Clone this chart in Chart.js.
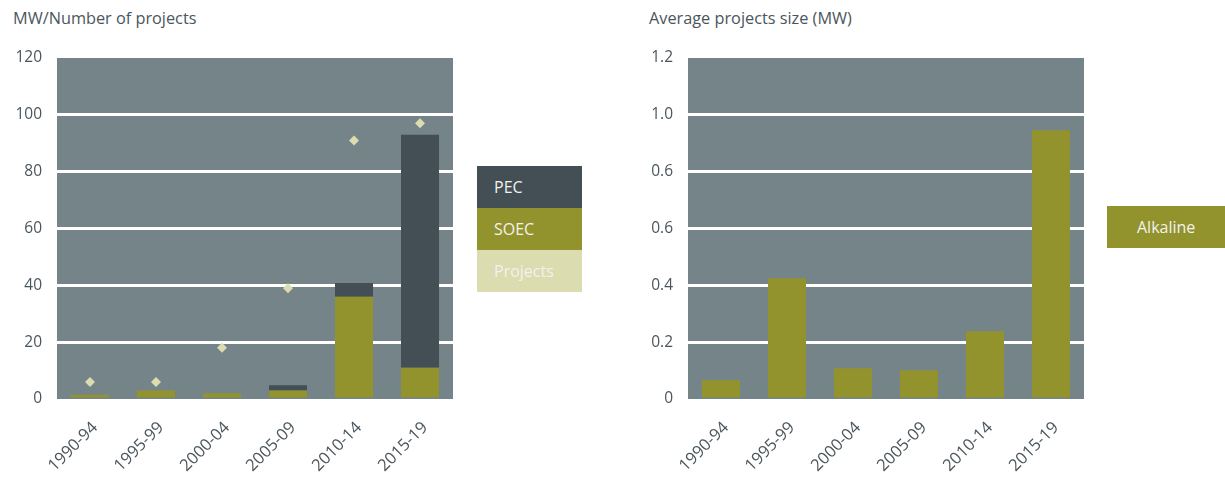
<!DOCTYPE html>
<html>
<head>
<meta charset="utf-8">
<script src="https://cdn.jsdelivr.net/npm/chart.js@4.4.1/dist/chart.umd.min.js"></script>
<style>
  html, body { margin: 0; padding: 0; background: #fff; }
  body { width: 1225px; height: 477px; position: relative; overflow: hidden; font-family: "Open Sans", sans-serif; }
  .title { position: absolute; top: 7px; font-size: 16.3px; color: #4b565c; white-space: nowrap; }
  .wrap { position: absolute; top: 0; width: 470px; height: 477px; }
  .legend { position: absolute; }
  .legend div { height: 42px; line-height: 42px; font-size: 16px; color: #f2f2ee; box-sizing: border-box; }
</style>
</head>
<body>
<div class="title" style="left:13px">MW/Number of projects</div>
<div class="title" style="left:649px">Average projects size (MW)</div>
<div class="wrap" style="left:0"><canvas id="left" width="470" height="477"></canvas></div>
<div class="wrap" style="left:630px"><canvas id="right" width="470" height="477"></canvas></div>
<div class="legend" id="legLeft" style="left:477px; top:166px; width:105px"></div>
<div class="legend" id="legRight" style="left:1107px; top:206px; width:118px"></div>
<script>
// periods on the x axis (both panels)
const periods = ['1990-94', '1995-99', '2000-04', '2005-09', '2010-14', '2015-19'];

// left panel: installed MW by technology + number of projects
const soecMW = [1.5, 3, 2, 3, 36, 11];
const pecMW = [0, 0, 0, 1.8, 4.8, 82];
const projectCount = [6, 6, 18, 39, 91, 97];
const leftTicks = [0, 20, 40, 60, 80, 100, 120];

// right panel: average project size (MW), alkaline
const alkalineAvg = [0.066, 0.425, 0.108, 0.101, 0.238, 0.946];
const rightTicks = [0, 0.2, 0.4, 0.6, 0.8, 1.0, 1.2];
const rightTickLabels = ['0', '0.2', '0.4', '0.6', '0.6', '1.0', '1.2'];

const C = {
  bg: '#748489',
  pec: '#434e55',
  soec: '#92932c',
  proj: '#dbdcb0',
  text: '#4b565c'
};
const FONT = { family: '"Open Sans", sans-serif', size: 15.5 };
const XFONT = { family: '"Open Sans", sans-serif', size: 16.5 };

// fill plot area grey before grid and bars
const areaBg = {
  id: 'areaBg',
  beforeDraw(chart) {
    const { ctx, chartArea: a } = chart;
    ctx.save();
    ctx.fillStyle = C.bg;
    ctx.fillRect(a.left, a.top, a.right - a.left, a.bottom - a.top);
    ctx.restore();
  }
};

function baseOptions(max, step, yLabel, rightPad) {
  return {
    responsive: false,
    animation: false,
    events: [],
    layout: { padding: { top: 58, left: 0, right: rightPad, bottom: 0 } },
    plugins: { legend: { display: false }, tooltip: { enabled: false } },
    scales: {
      x: {
        stacked: true,
        grid: { display: false },
        border: { display: false },
        ticks: { color: C.text, font: XFONT, minRotation: 45, maxRotation: 45, padding: 11, labelOffset: 5 },
        afterFit: s => { s.height = 78; }
      },
      y: {
        stacked: true,
        min: 0, max: max,
        border: { display: false },
        grid: {
          lineWidth: 3,
          drawTicks: false,
          color: c => (c.tick && (c.tick.value <= 0 || c.tick.value >= max - 1e-9)) ? 'rgba(0,0,0,0)' : '#ffffff'
        },
        ticks: { stepSize: step, color: C.text, font: FONT, padding: 15, callback: yLabel },
        afterFit: s => { s.width = 57; }
      }
    }
  };
}

const barStyle = { barPercentage: 0.576, categoryPercentage: 1, borderWidth: 0 };

new Chart(document.getElementById('left'), {
  type: 'bar',
  data: {
    labels: periods,
    datasets: [
      { label: 'SOEC', data: soecMW, backgroundColor: C.soec, stack: 'mw', order: 2, ...barStyle },
      { label: 'PEC', data: pecMW, backgroundColor: C.pec, stack: 'mw', order: 2, ...barStyle },
      {
        label: 'Projects', type: 'line', data: projectCount, stack: 'projects', order: 1,
        showLine: false, pointStyle: 'rectRot', pointRadius: 5, pointBorderWidth: 0,
        pointBackgroundColor: C.proj, borderColor: C.proj
      }
    ]
  },
  options: baseOptions(120, 20, v => leftTicks.includes(v) ? String(v) : '', 470 - 453),
  plugins: [areaBg]
});

const rightOpts = baseOptions(1.2, 0.2, (v, i) => rightTickLabels[i] ?? '', 470 - 454);
rightOpts.scales.y.afterFit = s => { s.width = 58; };
new Chart(document.getElementById('right'), {
  type: 'bar',
  data: {
    labels: periods,
    datasets: [
      { label: 'Alkaline', data: alkalineAvg, backgroundColor: C.soec, ...barStyle }
    ]
  },
  options: rightOpts,
  plugins: [areaBg]
});

// legends as plain boxes
function buildLegend(el, items, indent) {
  items.forEach(it => {
    const d = document.createElement('div');
    d.style.background = it.color;
    d.style.paddingLeft = indent + 'px';
    d.textContent = it.label;
    el.appendChild(d);
  });
}
buildLegend(document.getElementById('legLeft'), [
  { label: 'PEC', color: C.pec },
  { label: 'SOEC', color: C.soec },
  { label: 'Projects', color: C.proj }
], 17);
buildLegend(document.getElementById('legRight'), [
  { label: 'Alkaline', color: C.soec }
], 30);
</script>
</body>
</html>
